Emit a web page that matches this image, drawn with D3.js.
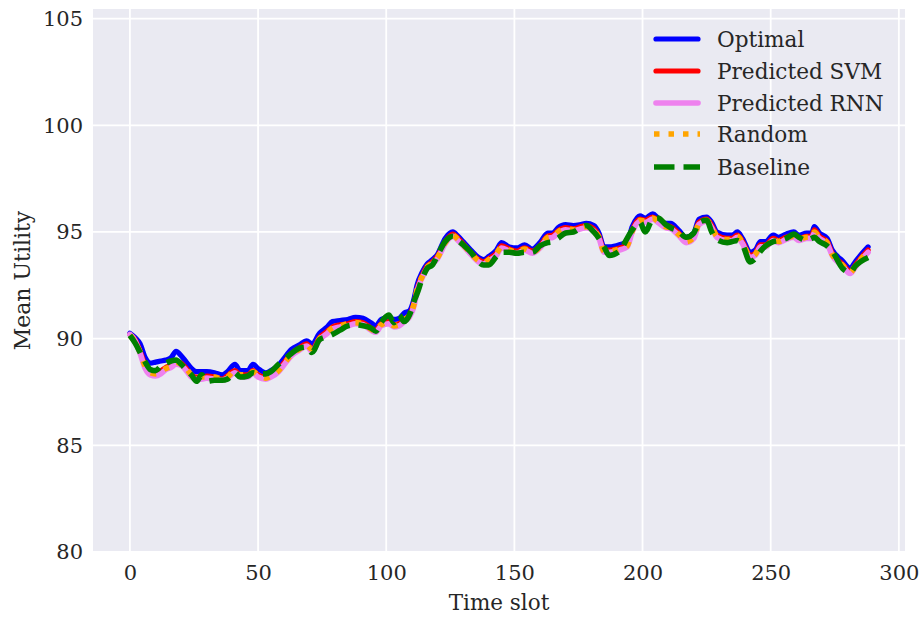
<!DOCTYPE html>
<html>
<head>
<meta charset="utf-8">
<script src="https://cdn.jsdelivr.net/npm/d3@7"></script>
<style>
  html, body { margin: 0; padding: 0; background: #ffffff; }
  svg { display: block; }
  text { font-family: "DejaVu Serif", serif; fill: #262626; }
</style>
</head>
<body>
<svg id="chart" width="921" height="617"></svg>
<script>
// ---------------- data ----------------
const timeSlots = [
  0,2,4,6,8,10,12,14,
  16,18,20,22,24,26,28,30,
  33,36,38,41,43,46,48,50,
  53,55,58,60,63,66,69,71,
  74,77,79,82,85,88,91,94,
  96,98,101,103,105,107,109,111,
  112,114,116,118,120,123,126,128,
  130,133,136,138,140,143,145,148,
  151,154,157,160,163,165,167,170,
  173,176,178,181,183,185,187,191,
  194,196,199,201,204,206,209,211,
  214,217,220,222,225,227,229,233,
  235,237,239,242,244,246,248,251,
  253,256,259,261,264,266,267,269,
  272,274,278,281,283,285,288
];

const optimal = [
  90.25,90.05,89.75,89.1,88.85,88.9,88.95,89.0,
  89.1,89.4,89.2,88.9,88.6,88.45,88.45,88.45,
  88.4,88.3,88.45,88.8,88.5,88.5,88.8,88.6,
  88.4,88.5,88.75,89.05,89.5,89.7,89.9,89.75,
  90.25,90.55,90.8,90.85,90.9,91.0,90.95,90.75,
  90.6,90.9,91.0,90.9,90.95,91.2,91.3,91.95,
  92.5,93.1,93.5,93.7,93.95,94.7,95.0,94.8,
  94.55,94.15,93.8,93.7,93.85,94.15,94.5,94.3,
  94.25,94.4,94.2,94.5,94.95,94.95,95.2,95.35,
  95.3,95.35,95.4,95.3,94.95,94.3,94.3,94.4,
  94.55,95.25,95.75,95.65,95.85,95.65,95.4,95.4,
  95.1,94.75,94.95,95.6,95.7,95.45,95.0,94.85,
  94.85,95.0,94.7,94.05,94.15,94.55,94.55,94.85,
  94.75,94.9,95.0,94.85,94.95,94.95,95.25,94.95,
  94.7,94.15,93.65,93.3,93.6,93.9,94.3
];

const predictedSVM = [
  90.2,89.95,89.4,88.75,88.45,88.4,88.5,88.65,
  88.75,88.95,88.85,88.6,88.3,88.2,88.2,88.25,
  88.2,88.1,88.25,88.5,88.3,88.3,88.5,88.3,
  88.2,88.3,88.55,88.85,89.3,89.55,89.75,89.5,
  90.05,90.35,90.55,90.65,90.7,90.8,90.75,90.5,
  90.4,90.7,90.8,90.65,90.7,90.9,91.1,91.75,
  92.3,92.95,93.4,93.6,93.85,94.55,94.9,94.7,
  94.45,94.05,93.7,93.6,93.75,94.0,94.35,94.2,
  94.1,94.25,94.1,94.35,94.8,94.85,95.05,95.2,
  95.15,95.25,95.3,95.15,94.8,94.15,94.15,94.25,
  94.4,95.1,95.6,95.55,95.7,95.55,95.3,95.25,
  94.95,94.6,94.8,95.45,95.6,95.3,94.85,94.7,
  94.7,94.85,94.55,93.9,94.0,94.4,94.4,94.7,
  94.6,94.75,94.85,94.7,94.8,94.8,95.1,94.8,
  94.55,94.0,93.5,93.15,93.45,93.75,94.15
];

const predictedRNN = [
  90.2,89.9,89.3,88.6,88.3,88.25,88.35,88.55,
  88.65,88.8,88.75,88.5,88.2,88.1,88.1,88.15,
  88.1,88.05,88.15,88.4,88.2,88.2,88.4,88.2,
  88.1,88.2,88.45,88.75,89.2,89.45,89.65,89.4,
  89.95,90.25,90.45,90.55,90.6,90.7,90.65,90.4,
  90.3,90.6,90.7,90.55,90.6,90.8,91.0,91.6,
  92.2,92.85,93.3,93.5,93.75,94.45,94.8,94.6,
  94.35,93.95,93.6,93.5,93.65,93.9,94.25,94.1,
  94.0,94.15,94.0,94.25,94.7,94.75,94.95,95.1,
  95.05,95.15,95.2,95.05,94.7,94.05,94.05,94.15,
  94.3,95.0,95.5,95.45,95.6,95.45,95.2,95.15,
  94.85,94.5,94.7,95.35,95.5,95.2,94.75,94.6,
  94.6,94.75,94.45,93.8,93.9,94.3,94.3,94.6,
  94.5,94.65,94.75,94.6,94.7,94.7,94.95,94.7,
  94.45,93.9,93.4,93.05,93.35,93.65,94.05
];

const randomPolicy = [
  90.15,89.85,89.35,88.7,88.4,88.35,88.45,88.6,
  88.7,88.9,88.8,88.6,88.3,88.15,88.2,88.2,
  88.2,88.1,88.2,88.5,88.3,88.3,88.45,88.3,
  88.15,88.25,88.5,88.8,89.25,89.5,89.7,89.5,
  90.0,90.3,90.5,90.6,90.7,90.75,90.7,90.45,
  90.35,90.65,90.75,90.6,90.65,90.9,91.05,91.7,
  92.3,92.9,93.35,93.55,93.8,94.5,94.85,94.65,
  94.4,94.0,93.65,93.55,93.7,94.0,94.3,94.15,
  94.05,94.2,94.05,94.3,94.75,94.8,95.0,95.15,
  95.1,95.2,95.25,95.1,94.75,94.1,94.1,94.2,
  94.35,95.05,95.55,95.5,95.65,95.5,95.25,95.2,
  94.9,94.55,94.75,95.4,95.55,95.25,94.8,94.65,
  94.65,94.8,94.5,93.85,93.95,94.35,94.35,94.65,
  94.55,94.7,94.8,94.65,94.75,94.75,95.0,94.75,
  94.5,93.95,93.45,93.1,93.4,93.7,94.1
];

const baseline = [
  90.15,89.8,89.35,88.9,88.55,88.5,88.7,88.85,
  88.95,89.0,88.8,88.55,88.3,88.0,88.3,88.0,
  88.05,88.05,88.1,88.4,88.2,88.25,88.4,88.35,
  88.35,88.45,88.8,89.0,89.3,89.55,89.6,89.35,
  89.95,90.1,90.2,90.4,90.6,90.65,90.6,90.5,
  90.35,90.75,91.1,90.75,91.1,90.8,91.1,91.8,
  92.1,92.8,93.3,93.45,93.9,94.55,94.8,94.6,
  94.4,94.05,93.6,93.45,93.45,93.85,94.05,94.05,
  94.0,94.05,94.05,94.35,94.5,94.55,94.7,94.95,
  95.0,95.2,95.3,95.0,94.7,94.3,93.9,94.1,
  94.7,95.1,95.45,95.0,95.6,95.65,95.35,95.2,
  95.05,94.75,94.95,95.45,95.55,95.0,94.65,94.5,
  94.55,94.6,94.4,93.6,93.75,94.1,94.35,94.55,
  94.6,94.7,94.9,94.75,94.6,94.7,94.75,94.55,
  94.35,94.1,93.3,93.1,93.4,93.6,93.8
];

const seriesNames = ["Optimal", "Predicted SVM", "Predicted RNN", "Random", "Baseline"];
const xTicks = [0, 50, 100, 150, 200, 250, 300];
const yTicks = [80, 85, 90, 95, 100, 105];
const xLabel = "Time slot";
const yLabel = "Mean Utility";

// ---------------- styles ----------------
const styles = [
  { color: "#0000ff", width: 5.2, dash: null,       cap: "round" },
  { color: "#ff0000", width: 5.2, dash: null,       cap: "round" },
  { color: "#ee82ee", width: 5.6, dash: null,       cap: "round" },
  { color: "#ffa500", width: 5.6, dash: "5.5,9",    cap: "butt" },
  { color: "#008000", width: 5.6, dash: "20.5,9",   cap: "butt" }
];
const seriesValues = [optimal, predictedSVM, predictedRNN, randomPolicy, baseline];

// ---------------- layout ----------------
const svg = d3.select("#chart");
const plot = { left: 93, right: 905, top: 9, bottom: 552 };

const x = d3.scaleLinear().domain([-14.4, 302.4]).range([plot.left, plot.right]);
const y = d3.scaleLinear().domain([80, 105.45]).range([plot.bottom, plot.top]);

svg.append("rect")
  .attr("x", plot.left).attr("y", plot.top)
  .attr("width", plot.right - plot.left).attr("height", plot.bottom - plot.top)
  .attr("fill", "#eaeaf2");

// grid
const grid = svg.append("g");
grid.selectAll("line.gx").data(xTicks).enter().append("line")
  .attr("x1", d => x(d)).attr("x2", d => x(d))
  .attr("y1", plot.top).attr("y2", plot.bottom)
  .attr("stroke", "#ffffff").attr("stroke-width", 1.8);
grid.selectAll("line.gy").data(yTicks).enter().append("line")
  .attr("x1", plot.left).attr("x2", plot.right)
  .attr("y1", d => y(d)).attr("y2", d => y(d))
  .attr("stroke", "#ffffff").attr("stroke-width", 1.8);

// axes (tick labels only, no spines, no tick marks)
const xAxis = d3.axisBottom(x).tickValues(xTicks).tickSize(0).tickPadding(13).tickFormat(d3.format("d"));
const yAxis = d3.axisLeft(y).tickValues(yTicks).tickSize(0).tickPadding(10).tickFormat(d3.format("d"));

const gx = svg.append("g").attr("transform", `translate(0,${plot.bottom})`).call(xAxis);
const gy = svg.append("g").attr("transform", `translate(${plot.left},0)`).call(yAxis);
[gx, gy].forEach(g => {
  g.select(".domain").remove();
  g.selectAll("text")
    .style("font-family", "'DejaVu Serif', serif")
    .style("font-size", "21px")
    .attr("fill", "#262626");
});

// axis labels
svg.append("text")
  .attr("x", (plot.left + plot.right) / 2).attr("y", 610)
  .attr("text-anchor", "middle")
  .style("font-size", "21.5px")
  .text(xLabel);
svg.append("text")
  .attr("transform", `translate(30,${(plot.top + plot.bottom) / 2}) rotate(-90)`)
  .attr("text-anchor", "middle")
  .style("font-size", "22px")
  .text(yLabel);

// lines
svg.append("clipPath").attr("id", "clip")
  .append("rect").attr("x", plot.left).attr("y", plot.top)
  .attr("width", plot.right - plot.left).attr("height", plot.bottom - plot.top);

const line = d3.line().x(d => x(d[0])).y(d => y(d[1])).curve(d3.curveMonotoneX);
const linesG = svg.append("g").attr("clip-path", "url(#clip)");
seriesValues.forEach((vals, i) => {
  const n = Math.min(vals.length, timeSlots.length);
  const pts = d3.range(n).map(k => [timeSlots[k], vals[k]]);
  const st = styles[i];
  linesG.append("path")
    .datum(pts)
    .attr("d", line)
    .attr("fill", "none")
    .attr("stroke", st.color)
    .attr("stroke-width", st.width)
    .attr("stroke-linejoin", "round")
    .attr("stroke-linecap", st.cap)
    .attr("stroke-dasharray", st.dash);
});

// legend
const legendY = [39, 71, 103, 134, 167];
const leg = svg.append("g");
seriesNames.forEach((name, i) => {
  const st = styles[i];
  leg.append("line")
    .attr("x1", st.cap === "round" ? 656 : 654).attr("x2", st.cap === "round" ? 698 : 700)
    .attr("y1", legendY[i]).attr("y2", legendY[i])
    .attr("stroke", st.color)
    .attr("stroke-width", st.width)
    .attr("stroke-linecap", st.cap)
    .attr("stroke-dasharray", st.dash);
  leg.append("text")
    .attr("x", 717).attr("y", legendY[i] + 7.5)
    .style("font-size", "21.6px")
    .text(name);
});
</script>
</body>
</html>
